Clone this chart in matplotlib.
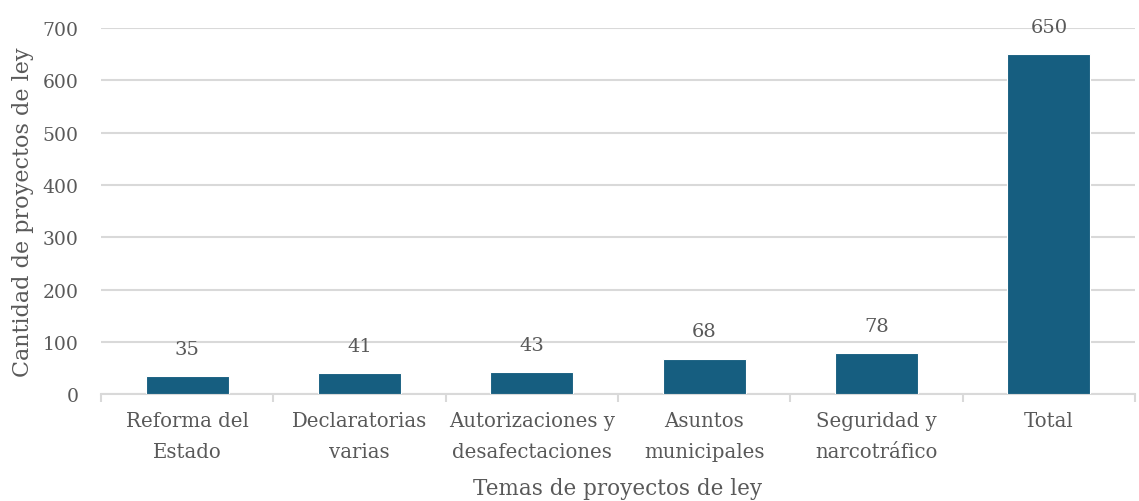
import matplotlib
matplotlib.use("Agg")
import matplotlib.pyplot as plt
import numpy as np

categories = ["Reforma del\nEstado", "Declaratorias\nvarias", "Autorizaciones y\ndesafectaciones",
              "Asuntos\nmunicipales", "Seguridad y\nnarcotráfico", "Total"]
values = [35, 41, 43, 68, 78, 650]
yticks = [0, 100, 200, 300, 400, 500, 600, 700]

plt.rcParams['font.family'] = ['DejaVu Serif']
text_color = "#595959"
bar_color = "#165E80"
grid_color = "#D9D9D9"

fig = plt.figure(figsize=(11.39, 5.02), dpi=100)
ax = fig.add_axes([0.0887, 0.213, 0.9078, 0.729])

x = np.arange(len(categories))
bars = ax.bar(x, values, width=0.48, color=bar_color, edgecolor="white", linewidth=0.8, zorder=3)

for xi, v in zip(x, values):
    ax.annotate(str(v), (xi, v), xytext=(0, 13), textcoords="offset points",
                ha="center", va="bottom", fontsize=14, color=text_color)

ax.set_xlim(-0.5, len(categories) - 0.5)
ax.set_ylim(0, 700)
ax.set_yticks(yticks)
ax.yaxis.grid(True, color=grid_color, linewidth=1.5, zorder=0)
ax.set_axisbelow(True)

ax.set_xticks(x)
ax.set_xticklabels(categories, fontsize=14.2, color=text_color, linespacing=1.8)
ax.tick_params(axis='x', length=0, pad=12)
ax.set_xticks(np.arange(-0.5, len(categories) + 0.5, 1), minor=True)
ax.tick_params(axis='x', which='minor', length=6, color=grid_color, width=1.5)
ax.tick_params(axis='y', length=0, labelsize=13.5, labelcolor=text_color, pad=16)

for s in ["top", "right", "left"]:
    ax.spines[s].set_visible(False)
ax.spines["bottom"].set_color(grid_color)
ax.spines["bottom"].set_linewidth(1.5)

ax.set_ylabel("Cantidad de proyectos de ley", fontsize=16, color=text_color, labelpad=6)
ax.set_xlabel("Temas de proyectos de ley", fontsize=15.5, color=text_color, labelpad=12)

fig.savefig("out.png", dpi=100)
